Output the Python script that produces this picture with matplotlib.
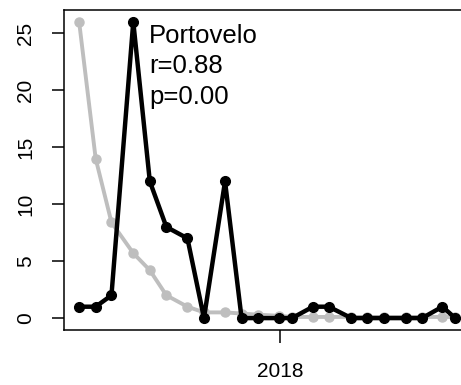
import matplotlib
matplotlib.use("Agg")
import matplotlib.pyplot as plt
import matplotlib.dates as mdates
import pandas as pd

plt.rcParams['font.family'] = ['Liberation Sans', 'DejaVu Sans']

# sampling dates and the two series
dates = ["2017-04-09", "2017-05-01", "2017-05-22", "2017-06-20", "2017-07-12",
         "2017-08-03", "2017-08-31", "2017-09-22", "2017-10-20", "2017-11-11",
         "2017-12-03", "2017-12-31", "2018-01-17", "2018-02-14", "2018-03-07",
         "2018-04-06", "2018-04-27", "2018-05-20", "2018-06-17", "2018-07-09",
         "2018-08-05", "2018-08-22"]
observed = [1, 1, 2, 26, 12, 8, 7, 0, 12, 0, 0, 0, 0, 1, 1, 0, 0, 0, 0, 0, 1, 0]
predicted = [26, 14, 8.4, 5.7, 4.2, 2.0, 1.0, 0.5, 0.5, 0.4, 0.3, 0.2, 0.1, 0.1,
             0.1, 0.1, 0.1, 0.1, 0.1, 0.1, 0.1, 0.1]
site = "Portovelo"
r_val = 0.88
p_val = 0.00
y_ticks = [0, 5, 10, 15, 20, 25]

x = pd.to_datetime(dates)

fig = plt.figure(figsize=(4.61, 3.85), dpi=100)
ax = fig.add_axes([0.139, 0.143, 0.881, 0.831])

ax.plot(x, predicted, color="#BEBEBE", lw=2.8, marker="o", ms=6.5, zorder=2)
ax.plot(x, observed, color="black", lw=3.2, marker="o", ms=7, zorder=3)

# R-style 4% padding around the data
span = x.max() - x.min()
ax.set_xlim(x.min() - span * 0.04, x.max() + span * 0.04)
ymax = max(max(observed), max(predicted))
ax.set_ylim(-0.04 * ymax, ymax * 1.04)

ax.set_yticks(y_ticks)
ax.set_yticklabels([str(t) for t in y_ticks], rotation=90, va="center")
ax.set_xticks([pd.Timestamp("2018-01-01")])
ax.xaxis.set_major_formatter(mdates.DateFormatter("%Y"))
ax.tick_params(axis="both", labelsize=15, length=9, width=1.1)
ax.tick_params(axis="x", pad=14)
ax.tick_params(axis="y", pad=12)

for s in ax.spines.values():
    s.set_linewidth(1.1)

ax.text(0.21, 0.955, f"{site}\nr={r_val:.2f}\np={p_val:.2f}",
        transform=ax.transAxes, ha="left", va="top", fontsize=18.5,
        linespacing=1.32)

fig.savefig("out.png", dpi=100)
